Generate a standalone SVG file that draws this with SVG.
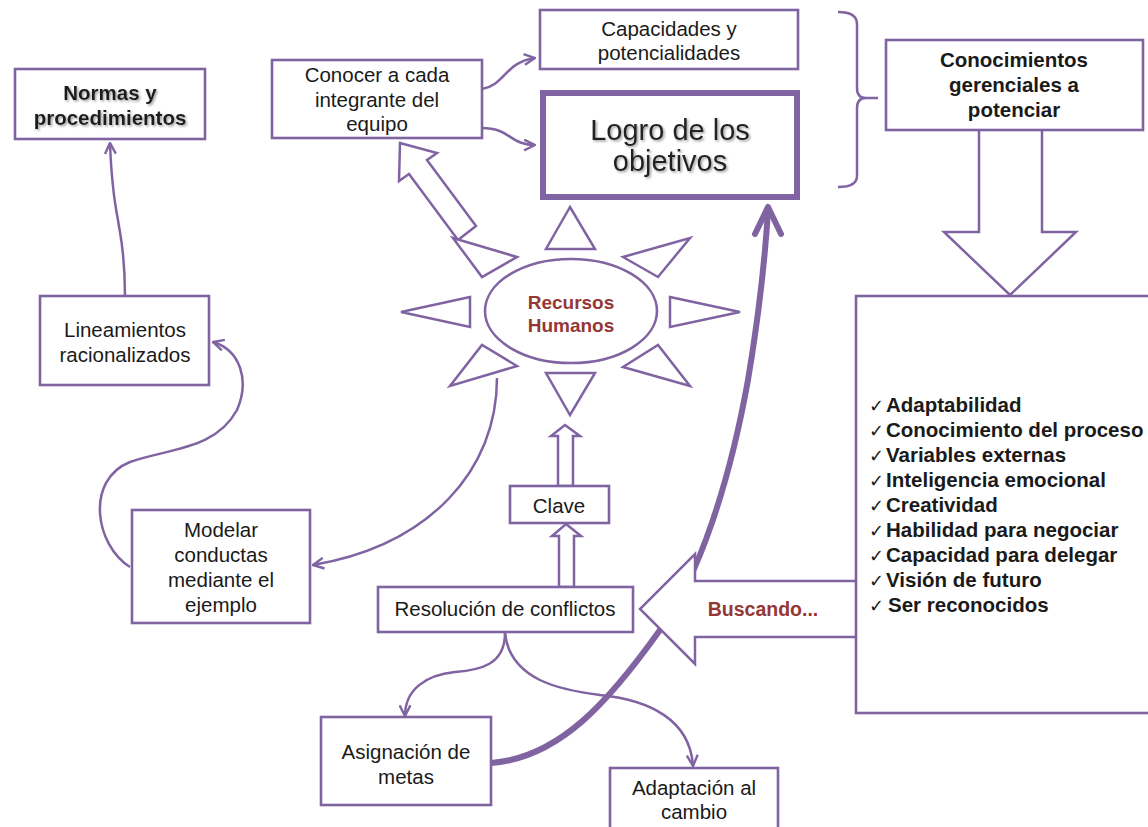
<svg xmlns="http://www.w3.org/2000/svg" width="1148" height="827" viewBox="0 0 1148 827">
<style>
.box{fill:#fff;stroke:#8064A2;stroke-width:2.6}
.ln{fill:none;stroke:#8064A2;stroke-width:2.5}
.shape{fill:#fff;stroke:#8064A2;stroke-width:2.5;stroke-linejoin:miter}
.t{font-family:"Liberation Sans",Arial,sans-serif;font-size:20.5px;fill:#1a1a1a;text-anchor:middle}
.b{font-weight:bold}
.red{fill:#953735;font-weight:bold}
.li{font-family:"Liberation Sans",Arial,sans-serif;font-size:20.5px;font-weight:bold;fill:#1a1a1a}
.chk{font-family:"DejaVu Sans",sans-serif;font-size:18px;font-weight:normal}
</style>
<defs>
<marker id="arr" viewBox="0 0 12 12" refX="11" refY="6" markerWidth="13" markerHeight="13" markerUnits="userSpaceOnUse" orient="auto">
<path d="M1,1 L11,6 L1,11" fill="none" stroke="#8064A2" stroke-width="2.2"/>
</marker>
<filter id="sh" x="-10%" y="-20%" width="130%" height="150%">
<feDropShadow dx="1.5" dy="1.5" stdDeviation="1" flood-color="#888" flood-opacity="0.8"/>
</filter>
</defs>

<g id="connectors">
<path class="ln" d="M125,296 C125,250 120,235 118,220 C114,200 111,170 110,143" marker-end="url(#arr)"/>
<path class="ln" d="M130,567 C95,545 85,480 130,462 C170,448 215,450 237,410 C250,380 240,350 213,342" marker-end="url(#arr)"/>
<path class="ln" d="M497,378 C497,470 430,545 313,565" marker-end="url(#arr)"/>
<path class="ln" d="M482,89 C505,85 505,62 535,58" marker-end="url(#arr)"/>
<path class="ln" d="M482,128 C510,128 510,145 535,145" marker-end="url(#arr)"/>
<path class="ln" d="M505,633 C505,665 480,670 455,672 C425,675 405,690 405,716" marker-end="url(#arr)"/>
<path class="ln" d="M505,633 C510,680 560,690 600,695 C650,700 690,720 693,766" marker-end="url(#arr)"/>
<path fill="none" stroke="#8064A2" stroke-width="6" d="M491,763 C560,758 610,700 660,630 C700,575 730,480 748,380 C758,320 765,260 768,210"/>
<path fill="none" stroke="#8064A2" stroke-width="6" stroke-linecap="round" stroke-linejoin="round" d="M755,234 L768,207 L781,234"/>
<path class="shape" d="M979,130 L979,232 L944,232 L1010,295 L1076,232 L1042,232 L1042,130"/>
<path class="shape" d="M856,581 L695,581 L695,554 L640,609 L695,664 L695,637 L856,637"/>
<path class="shape" d="M400,143 L437,153 L427,160 L476,226 L458,240 L409,174 L399,181 Z"/>
<path class="shape" d="M565,425 L580,436 L573,436 L573,486 L558,486 L558,436 L551,436 Z"/>
<path class="shape" d="M566,524 L581,536 L574,536 L574,587 L559,587 L559,536 L552,536 Z"/>
<path class="ln" d="M838,12 Q857,12 857,24 L857,88 Q857,98 866,98 L878,98 M866,98 Q857,98 857,108 L857,176 Q857,187 838,187"/>
</g>

<g id="recursos">
<ellipse class="box" cx="571" cy="311" rx="86" ry="52"/>
<polygon class="shape" points="570,207 546,249 595,249"/>
<polygon class="shape" points="623,257 690,238 658,277"/>
<polygon class="shape" points="670,297 740,312 670,327"/>
<polygon class="shape" points="623,367 658,345 690,386"/>
<polygon class="shape" points="546,373 595,373 570,415"/>
<polygon class="shape" points="517,366 482,345 450,386"/>
<polygon class="shape" points="470,297 401,312 470,327"/>
<polygon class="shape" points="517,257 453,238 482,277"/>
<text class="t red" style="font-size:19px"><tspan x="571" y="309">Recursos</tspan><tspan x="571" y="332">Humanos</tspan></text>
</g>

<g id="normas">
<rect class="box" x="15" y="69" width="190" height="70"/>
<text class="t b" filter="url(#sh)"><tspan x="110" y="100">Normas y</tspan><tspan x="110" y="125">procedimientos</tspan></text>
</g>

<g id="conocer">
<rect class="box" x="272" y="60" width="210" height="78"/>
<text class="t"><tspan x="377" y="82">Conocer a cada</tspan><tspan x="377" y="107">integrante del</tspan><tspan x="377" y="131">equipo</tspan></text>
</g>

<g id="capacidades">
<rect class="box" x="540" y="10" width="258" height="59"/>
<text class="t"><tspan x="669" y="36">Capacidades y</tspan><tspan x="669" y="60">potencialidades</tspan></text>
</g>

<g id="logro">
<rect x="543" y="93" width="254" height="104" fill="#fff" stroke="#8064A2" stroke-width="6"/>
<text class="t" style="font-size:29px;fill:#222" filter="url(#sh)"><tspan x="670" y="140">Logro de los</tspan><tspan x="670" y="171">objetivos</tspan></text>
</g>

<g id="conocimientos">
<rect class="box" x="886" y="40" width="257" height="90"/>
<text class="t b"><tspan x="1014" y="67">Conocimientos</tspan><tspan x="1014" y="92">gerenciales a</tspan><tspan x="1014" y="117">potenciar</tspan></text>
</g>

<g id="lista">
<rect class="box" x="856" y="296" width="300" height="417"/>
<text class="li" y="412"><tspan class="chk" x="869">✓</tspan><tspan x="886">Adaptabilidad</tspan></text>
<text class="li" y="437"><tspan class="chk" x="869">✓</tspan><tspan x="886">Conocimiento del proceso</tspan></text>
<text class="li" y="462"><tspan class="chk" x="869">✓</tspan><tspan x="886">Variables externas</tspan></text>
<text class="li" y="487"><tspan class="chk" x="869">✓</tspan><tspan x="886">Inteligencia emocional</tspan></text>
<text class="li" y="512"><tspan class="chk" x="869">✓</tspan><tspan x="886">Creatividad</tspan></text>
<text class="li" y="537"><tspan class="chk" x="869">✓</tspan><tspan x="886">Habilidad para negociar</tspan></text>
<text class="li" y="562"><tspan class="chk" x="869">✓</tspan><tspan x="886">Capacidad para delegar</tspan></text>
<text class="li" y="587"><tspan class="chk" x="869">✓</tspan><tspan x="886">Visión de futuro</tspan></text>
<text class="li" y="612"><tspan class="chk" x="869">✓</tspan><tspan x="888">Ser reconocidos</tspan></text>
</g>

<g id="buscando">
<text class="t red" style="font-size:19.5px" x="763" y="616">Buscando...</text>
</g>

<g id="lineamientos">
<rect class="box" x="40" y="296" width="169" height="89"/>
<text class="t"><tspan x="125" y="337">Lineamientos</tspan><tspan x="125" y="362">racionalizados</tspan></text>
</g>

<g id="modelar">
<rect class="box" x="132" y="510" width="178" height="113"/>
<text class="t"><tspan x="221" y="537">Modelar</tspan><tspan x="221" y="562">conductas</tspan><tspan x="221" y="587">mediante el</tspan><tspan x="221" y="612">ejemplo</tspan></text>
</g>

<g id="clave">
<rect class="box" x="510" y="486" width="99" height="37"/>
<text class="t" x="559" y="513">Clave</text>
</g>

<g id="resolucion">
<rect class="box" x="378" y="587" width="255" height="45"/>
<text class="t" x="505" y="616">Resolución de conflictos</text>
</g>

<g id="asignacion">
<rect class="box" x="321" y="717" width="170" height="88"/>
<text class="t"><tspan x="406" y="759">Asignación de</tspan><tspan x="406" y="784">metas</tspan></text>
</g>

<g id="adaptacion">
<rect class="box" x="610" y="768" width="168" height="64"/>
<text class="t"><tspan x="694" y="795">Adaptación al</tspan><tspan x="694" y="819">cambio</tspan></text>
</g>
</svg>
